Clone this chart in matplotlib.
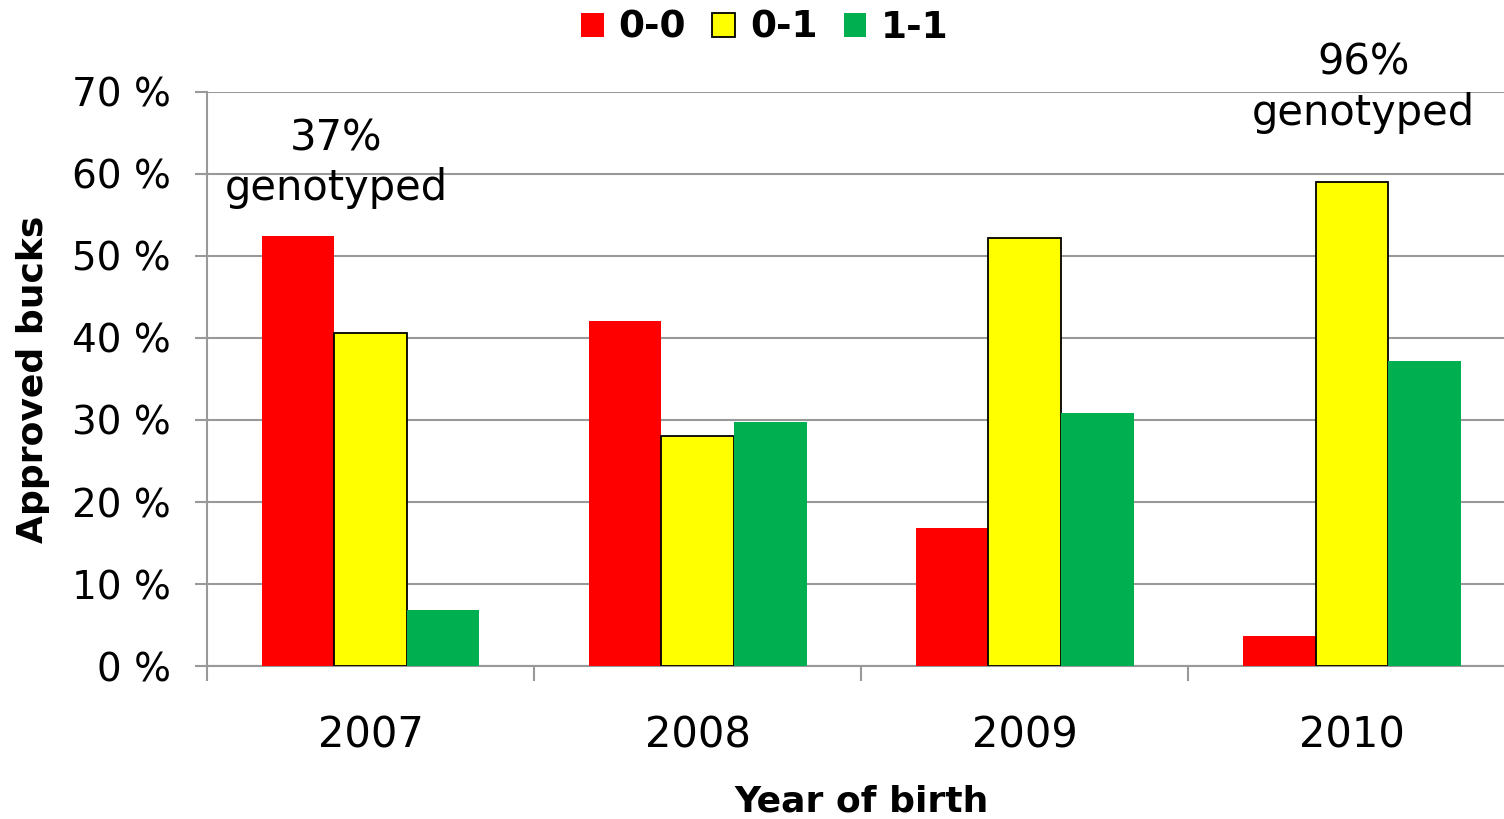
import matplotlib.pyplot as plt
import numpy as np

years = ["2007", "2008", "2009", "2010"]
genotypes = ["0-0", "0-1", "1-1"]
share_00 = [52.4, 42.1, 16.8, 3.7]
share_01 = [40.6, 28.0, 52.2, 59.0]
share_11 = [6.8, 29.8, 30.9, 37.2]
yticks = [0, 10, 20, 30, 40, 50, 60, 70]
notes = [(0, "37%\ngenotyped"), (3, "96%\ngenotyped")]

colors = ["#ff0000", "#ffff00", "#00b050"]
edges = ["none", "black", "none"]
grey = "#999999"

fig = plt.figure(figsize=(15.04, 8.19), dpi=100)
ax = fig.add_axes([0.1376, 0.1868, 0.870, 0.7009])

x = np.arange(len(years))
w = 0.222
for i, vals in enumerate([share_00, share_01, share_11]):
    ax.bar(x + (i - 1) * w, vals, w, color=colors[i], edgecolor=edges[i],
           linewidth=1.3, label=genotypes[i], zorder=3)

ax.set_xlim(-0.5, 3.5)
ax.set_ylim(0, 70)
ax.set_yticks(yticks)
ax.set_yticklabels([f"{v} %" for v in yticks], fontsize=28)
ax.yaxis.grid(True, color=grey, linewidth=1.5, zorder=0)

ax.set_xticks(x)
ax.set_xticklabels(years, fontsize=30)
ax.set_xticks(np.arange(len(years) + 1) - 0.5, minor=True)
ax.tick_params(axis="x", which="major", length=0, pad=35)
ax.tick_params(axis="x", which="minor", length=11, width=1.5, color=grey)
ax.tick_params(axis="y", length=9, width=1.5, color=grey, pad=17)

for s in ["top", "right"]:
    ax.spines[s].set_visible(False)
for s in ["left", "bottom"]:
    ax.spines[s].set_color(grey)
    ax.spines[s].set_linewidth(1.5)

ax.set_xlabel("Year of birth", fontsize=26, fontweight="bold", labelpad=20)
ax.set_ylabel("Approved bucks", fontsize=26, fontweight="bold", labelpad=16)

ax.text(-0.105, 61.3, notes[0][1], fontsize=30, ha="center", va="center",
        linespacing=1.25, zorder=4)
ax.text(3.035, 70.5, notes[1][1], fontsize=30, ha="center", va="center",
        linespacing=1.25, clip_on=False, zorder=4)

ax.legend(loc="center", bbox_to_anchor=(765 / 1504, 1 - 28 / 819),
          bbox_transform=fig.transFigure, ncol=3, frameon=False,
          prop={"size": 27, "weight": "bold"}, handlelength=0.6,
          handleheight=0.6, handletextpad=0.4, columnspacing=0.7)

fig.savefig("out.png", dpi=100)
